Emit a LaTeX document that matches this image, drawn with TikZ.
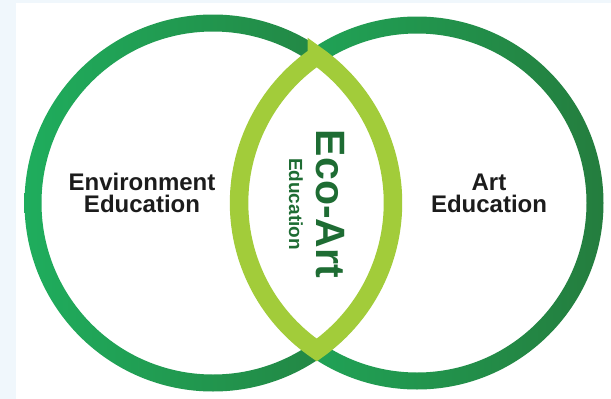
\documentclass[tikz,border=0pt]{standalone}
\usepackage{fontspec}
\setmainfont{Liberation Sans}

\definecolor{bgblue}{HTML}{F0F7FC}
\definecolor{ringlight}{HTML}{1FAD5D}
\definecolor{ringdark}{HTML}{247D3E}
\definecolor{lensgreen}{HTML}{A2CC3A}
\definecolor{ecogreen}{HTML}{1E6C33}
\definecolor{textblack}{HTML}{1C1C1C}

\begin{document}
\begin{tikzpicture}[x=1pt,y=-1pt,
  ring/.style={left color=ringlight,right color=ringdark,even odd rule},
  maintext/.style={text=textblack,font=\bfseries\fontsize{24}{22}\selectfont,align=center},
  ecotext/.style={text=ecogreen,rotate=-90,inner sep=0pt}]
  \useasboundingbox (0,0) rectangle (611,399);

  % 背景
  \fill[bgblue] (0,0) rectangle (611,399);
  \fill[white] (16,3) rectangle (611,399);

  % 左圆
  \shade[ring] (213,203) circle [radius=188.5] (213,203) circle [radius=171.5];

  % 右圆
  \shade[ring] (417,203) circle [radius=186.5] (417,203) circle [radius=169.5];

  % 中间透镜
  \coordinate (lenstop) at (316.75,55.9);
  \draw[lensgreen,line width=18.5pt,line join=miter] (lenstop)
    arc [start angle=235.7,end angle=124.3,radius=178]
    arc [start angle=54.8,end angle=-54.8,radius=180] -- cycle;

  % 文字
  \node[maintext] (env) at (142,193) {Environment\\Education};
  \node[maintext] (art) at (489,193) {Art\\Education};
  \node[ecotext,font=\bfseries\fontsize{41}{41}\selectfont] (eco) at (330,204) {Eco-Art};
  \node[ecotext,font=\bfseries\fontsize{19}{19}\selectfont] (ecoedu) at (296,204) {Education};
\end{tikzpicture}
\end{document}
